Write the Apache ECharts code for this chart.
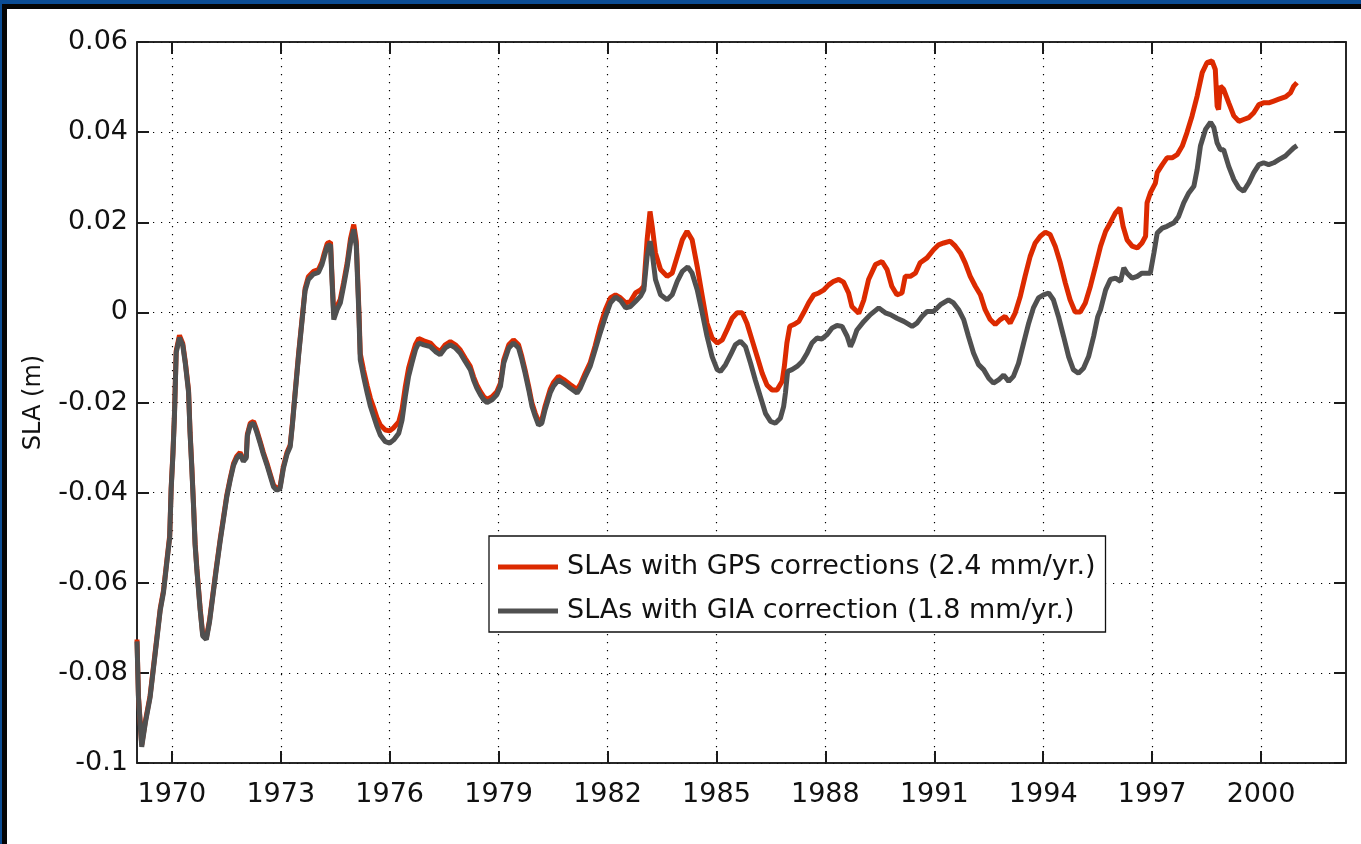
<!DOCTYPE html>
<html>
<head>
<meta charset="utf-8">
<script src="https://cdn.jsdelivr.net/npm/echarts@6/dist/echarts.min.js"></script>
<style>
  html, body { margin: 0; padding: 0; background: #fff; }
  #wrap { position: relative; width: 1361px; height: 844px; overflow: hidden; background: #fff; }
  #chart { position: absolute; left: 0; top: 0; width: 1361px; height: 844px; }
  .f { position: absolute; z-index: 10; }
</style>
</head>
<body>
<div id="wrap">
  <div id="chart"></div>
  <div class="f" style="left:0;top:0;width:1361px;height:4px;background:#0b4c94;"></div>
  <div class="f" style="left:0;top:4px;width:1361px;height:5px;background:#050505;"></div>
  <div class="f" style="left:0;top:0;width:2px;height:844px;background:#0b4c94;"></div>
  <div class="f" style="left:2px;top:4px;width:5px;height:840px;background:#050505;"></div>
</div>
<script>
// ---- data ----
const xTickYears = [1970, 1973, 1976, 1979, 1982, 1985, 1988, 1991, 1994, 1997, 2000];
const yTickValues = [-0.1, -0.08, -0.06, -0.04, -0.02, 0, 0.02, 0.04, 0.06];
const yTickLabels = ['-0.1', '-0.08', '-0.06', '-0.04', '-0.02', '0', '0.02', '0.04', '0.06'];
const seriesNames = ['SLAs with GPS corrections (2.4 mm/yr.)', 'SLAs with GIA correction (1.8 mm/yr.)'];

const gpsYears = [
1969.04,1969.08,1969.17,1969.27,1969.40,1969.54,1969.68,1969.77,1969.86,1969.94,1969.98,1970.03,1970.07,1970.12,1970.21,1970.30,1970.37,1970.46,1970.50,1970.55,1970.60,1970.64,1970.69,1970.78,1970.85,1970.95,
1971.04,1971.13,1971.22,1971.33,1971.42,1971.51,1971.61,1971.70,1971.79,1971.88,1971.97,1972.05,1972.08,1972.16,1972.25,1972.34,1972.43,1972.52,1972.62,1972.71,1972.80,1972.89,1972.98,
1973.07,1973.17,1973.26,1973.32,1973.39,1973.49,1973.58,1973.67,1973.76,1973.90,1974.04,1974.13,1974.20,1974.28,1974.37,1974.41,1974.46,1974.55,1974.64,1974.73,1974.83,1974.92,
1975.01,1975.08,1975.15,1975.19,1975.28,1975.38,1975.47,1975.56,1975.65,1975.74,1975.88,1976.00,1976.11,1976.25,1976.34,1976.43,1976.52,1976.61,1976.71,1976.80,1976.94,
1977.12,1977.26,1977.39,1977.53,1977.67,1977.81,1977.94,1978.08,1978.22,1978.31,1978.40,1978.50,1978.59,1978.68,1978.82,1978.95,
1979.05,1979.14,1979.28,1979.41,1979.55,1979.64,1979.73,1979.83,1979.92,1980.01,1980.10,1980.19,1980.28,1980.42,1980.51,1980.65,1980.79,1980.97,
1981.16,1981.25,1981.39,1981.52,1981.66,1981.80,1981.94,1982.08,1982.22,1982.36,1982.50,1982.63,1982.77,1982.91,
1983.00,1983.09,1983.17,1983.23,1983.32,1983.46,1983.64,1983.78,1983.92,1984.06,1984.19,1984.33,1984.47,1984.61,1984.74,1984.88,
1985.02,1985.16,1985.29,1985.43,1985.57,1985.71,1985.84,1985.98,1986.12,1986.26,1986.39,1986.53,1986.67,1986.81,1986.87,1986.94,
1987.02,1987.13,1987.27,1987.40,1987.54,1987.68,1987.82,1987.96,1988.09,1988.23,1988.37,1988.50,1988.64,1988.73,1988.92,
1989.06,1989.19,1989.38,1989.56,1989.70,1989.83,1989.97,1990.11,1990.20,1990.34,1990.48,1990.61,1990.80,1990.98,
1991.12,1991.26,1991.44,1991.58,1991.72,1991.85,1991.99,1992.13,1992.27,1992.40,1992.54,1992.68,1992.82,1992.95,
1993.09,1993.23,1993.37,1993.50,1993.64,1993.78,1993.92,1994.06,1994.19,1994.33,1994.47,1994.61,1994.74,1994.88,
1995.02,1995.16,1995.30,1995.44,1995.58,1995.72,1995.85,1995.99,1996.11,1996.20,1996.31,1996.45,1996.59,1996.72,1996.82,1996.86,1996.95,
1997.09,1997.14,1997.28,1997.41,1997.55,1997.69,1997.83,1997.96,1998.10,1998.24,1998.38,1998.51,1998.65,1998.74,1998.79,1998.83,1998.88,1998.97,
1999.11,1999.25,1999.39,1999.52,1999.66,1999.80,1999.94,2000.07,2000.21,2000.35,2000.49,2000.67,2000.81,2000.90,2000.99];
const gpsValues = [
-0.0726,-0.0851,-0.0960,-0.0907,-0.0851,-0.0754,-0.0657,-0.0617,-0.0552,-0.0496,-0.0391,-0.0311,-0.0230,-0.0085,-0.0051,-0.0069,-0.0109,-0.0173,-0.0262,-0.0343,-0.0432,-0.0512,-0.0569,-0.0657,-0.0714,-0.0722,
-0.0682,-0.0625,-0.0569,-0.0504,-0.0456,-0.0407,-0.0367,-0.0335,-0.0319,-0.0311,-0.0327,-0.0319,-0.0270,-0.0246,-0.0242,-0.0262,-0.0286,-0.0311,-0.0335,-0.0359,-0.0383,-0.0391,-0.0387,
-0.0343,-0.0311,-0.0294,-0.0246,-0.0182,-0.0092,-0.0019,0.0053,0.0079,0.0091,0.0095,0.0111,0.0132,0.0153,0.0156,0.0082,-0.0005,0.0014,0.0029,0.0066,0.0110,0.0163,
0.0195,0.0158,0.0010,-0.0092,-0.0128,-0.0163,-0.0191,-0.0212,-0.0234,-0.0250,-0.0261,-0.0263,-0.0256,-0.0243,-0.0215,-0.0165,-0.0124,-0.0098,-0.0071,-0.0058,-0.0063,
-0.0068,-0.0080,-0.0087,-0.0072,-0.0065,-0.0072,-0.0083,-0.0102,-0.0120,-0.0143,-0.0161,-0.0176,-0.0187,-0.0193,-0.0187,-0.0176,
-0.0157,-0.0106,-0.0072,-0.0061,-0.0072,-0.0098,-0.0128,-0.0165,-0.0202,-0.0224,-0.0242,-0.0238,-0.0208,-0.0171,-0.0156,-0.0142,-0.0149,-0.0160,
-0.0171,-0.0160,-0.0134,-0.0112,-0.0074,-0.0030,0.0006,0.0032,0.0039,0.0032,0.0021,0.0024,0.0043,0.0050,
0.0058,0.0161,0.0224,0.0191,0.0132,0.0095,0.0080,0.0087,0.0124,0.0161,0.0180,0.0161,0.0102,0.0036,-0.0024,-0.0057,
-0.0068,-0.0061,-0.0039,-0.0013,-0.0001,-0.0001,-0.0024,-0.0061,-0.0098,-0.0135,-0.0161,-0.0172,-0.0172,-0.0153,-0.0120,-0.0068,
-0.0031,-0.0027,-0.0020,-0.0001,0.0021,0.0039,0.0043,0.0050,0.0061,0.0069,0.0073,0.0067,0.0043,0.0013,-0.0002,
0.0028,0.0073,0.0106,0.0113,0.0095,0.0058,0.0039,0.0043,0.0080,0.0080,0.0087,0.0110,0.0121,0.0139,
0.0150,0.0154,0.0158,0.0147,0.0132,0.0110,0.0080,0.0058,0.0039,0.0006,-0.0016,-0.0027,-0.0016,-0.0009,
-0.0024,-0.0001,0.0036,0.0080,0.0124,0.0154,0.0169,0.0178,0.0173,0.0147,0.0110,0.0065,0.0028,0.0001,
0.0001,0.0021,0.0058,0.0102,0.0147,0.0180,0.0199,0.0221,0.0232,0.0191,0.0161,0.0147,0.0143,0.0154,0.0169,0.0243,0.0265,
0.0287,0.0310,0.0328,0.0343,0.0343,0.0350,0.0369,0.0399,0.0436,0.0480,0.0532,0.0554,0.0558,0.0539,0.0458,0.0450,0.0502,0.0495,
0.0465,0.0436,0.0424,0.0428,0.0432,0.0443,0.0461,0.0465,0.0465,0.0469,0.0473,0.0478,0.0487,0.0502,0.0510];

const giaYears = [
1969.04,1969.08,1969.17,1969.27,1969.40,1969.54,1969.68,1969.77,1969.86,1969.94,1969.98,1970.03,1970.07,1970.12,1970.21,1970.30,1970.37,1970.46,1970.50,1970.55,1970.60,1970.64,1970.69,1970.78,1970.85,1970.95,
1971.04,1971.13,1971.22,1971.33,1971.42,1971.51,1971.61,1971.70,1971.79,1971.88,1971.97,1972.05,1972.08,1972.16,1972.25,1972.34,1972.43,1972.52,1972.62,1972.71,1972.80,1972.89,1972.98,
1973.07,1973.17,1973.26,1973.32,1973.39,1973.49,1973.58,1973.67,1973.76,1973.90,1974.04,1974.13,1974.20,1974.28,1974.37,1974.41,1974.46,1974.55,1974.64,1974.73,1974.83,1974.92,
1975.01,1975.08,1975.15,1975.19,1975.28,1975.38,1975.47,1975.56,1975.65,1975.74,1975.88,1976.00,1976.11,1976.25,1976.34,1976.43,1976.52,1976.61,1976.71,1976.80,1976.94,
1977.12,1977.26,1977.39,1977.53,1977.67,1977.81,1977.94,1978.08,1978.22,1978.31,1978.40,1978.50,1978.59,1978.68,1978.82,1978.95,
1979.05,1979.14,1979.28,1979.41,1979.55,1979.64,1979.73,1979.83,1979.92,1980.01,1980.10,1980.19,1980.28,1980.42,1980.51,1980.65,1980.79,1980.97,
1981.16,1981.25,1981.39,1981.52,1981.66,1981.80,1981.94,1982.08,1982.22,1982.36,1982.50,1982.63,1982.77,1982.91,
1983.00,1983.09,1983.17,1983.23,1983.32,1983.46,1983.64,1983.78,1983.92,1984.06,1984.21,1984.33,1984.47,1984.61,1984.74,1984.88,
1985.02,1985.11,1985.25,1985.39,1985.52,1985.66,1985.80,1985.94,1986.07,1986.21,1986.35,1986.49,1986.62,1986.76,1986.85,1986.90,1986.96,
1987.08,1987.22,1987.36,1987.50,1987.63,1987.77,1987.90,1988.04,1988.18,1988.32,1988.46,1988.60,1988.69,1988.76,1988.87,
1989.06,1989.24,1989.47,1989.65,1989.79,1989.97,1990.16,1990.39,1990.52,1990.66,1990.80,1990.98,
1991.17,1991.39,1991.53,1991.67,1991.81,1991.94,1992.08,1992.22,1992.36,1992.50,1992.63,1992.77,1992.91,
1993.05,1993.18,1993.32,1993.46,1993.60,1993.73,1993.87,1994.01,1994.15,1994.28,1994.42,1994.56,1994.70,1994.83,1994.97,
1995.11,1995.25,1995.39,1995.50,1995.58,1995.72,1995.85,1995.99,1996.13,1996.22,1996.31,1996.45,1996.59,1996.72,1996.86,1996.95,
1997.05,1997.14,1997.28,1997.41,1997.60,1997.73,1997.87,1998.01,1998.15,1998.24,1998.33,1998.47,1998.61,1998.70,1998.79,1998.88,1998.97,
1999.11,1999.25,1999.39,1999.52,1999.66,1999.80,1999.94,2000.07,2000.21,2000.35,2000.49,2000.67,2000.81,2000.90,2000.99];
const giaValues = [
-0.0730,-0.0855,-0.0964,-0.0911,-0.0855,-0.0758,-0.0661,-0.0621,-0.0556,-0.0500,-0.0395,-0.0315,-0.0234,-0.0089,-0.0056,-0.0073,-0.0113,-0.0177,-0.0266,-0.0347,-0.0436,-0.0516,-0.0573,-0.0661,-0.0718,-0.0726,
-0.0686,-0.0629,-0.0573,-0.0508,-0.0460,-0.0411,-0.0371,-0.0339,-0.0323,-0.0315,-0.0331,-0.0323,-0.0274,-0.0250,-0.0246,-0.0266,-0.0290,-0.0315,-0.0339,-0.0363,-0.0387,-0.0395,-0.0391,
-0.0347,-0.0315,-0.0298,-0.0250,-0.0186,-0.0097,-0.0024,0.0048,0.0073,0.0085,0.0089,0.0105,0.0125,0.0147,0.0150,0.0073,-0.0016,0.0006,0.0021,0.0058,0.0102,0.0154,
0.0184,0.0147,-0.0001,-0.0105,-0.0142,-0.0179,-0.0209,-0.0231,-0.0253,-0.0272,-0.0287,-0.0290,-0.0283,-0.0268,-0.0239,-0.0187,-0.0142,-0.0113,-0.0083,-0.0068,-0.0072,
-0.0076,-0.0087,-0.0094,-0.0079,-0.0072,-0.0079,-0.0090,-0.0109,-0.0127,-0.0150,-0.0168,-0.0183,-0.0194,-0.0200,-0.0194,-0.0183,
-0.0164,-0.0113,-0.0079,-0.0068,-0.0079,-0.0105,-0.0135,-0.0172,-0.0209,-0.0231,-0.0250,-0.0246,-0.0216,-0.0179,-0.0164,-0.0150,-0.0157,-0.0168,
-0.0179,-0.0168,-0.0142,-0.0120,-0.0083,-0.0045,-0.0010,0.0021,0.0034,0.0026,0.0010,0.0013,0.0024,0.0036,
0.0050,0.0124,0.0158,0.0132,0.0073,0.0039,0.0028,0.0039,0.0069,0.0091,0.0101,0.0087,0.0050,-0.0002,-0.0053,-0.0098,
-0.0127,-0.0131,-0.0116,-0.0094,-0.0072,-0.0064,-0.0076,-0.0113,-0.0150,-0.0187,-0.0224,-0.0242,-0.0246,-0.0235,-0.0209,-0.0179,-0.0131,
-0.0127,-0.0120,-0.0109,-0.0090,-0.0068,-0.0057,-0.0059,-0.0050,-0.0035,-0.0029,-0.0031,-0.0053,-0.0076,-0.0064,-0.0039,
-0.0020,-0.0005,0.0010,-0.0001,-0.0005,-0.0013,-0.0020,-0.0031,-0.0024,-0.0009,0.0002,0.0002,
0.0017,0.0028,0.0021,0.0006,-0.0016,-0.0053,-0.0090,-0.0116,-0.0127,-0.0146,-0.0157,-0.0150,-0.0139,
-0.0153,-0.0142,-0.0113,-0.0068,-0.0024,0.0010,0.0032,0.0039,0.0043,0.0028,-0.0009,-0.0053,-0.0098,-0.0127,-0.0135,
-0.0124,-0.0098,-0.0053,-0.0010,0.0006,0.0050,0.0073,0.0076,0.0069,0.0099,0.0087,0.0076,0.0080,0.0087,0.0087,0.0087,
0.0132,0.0176,0.0187,0.0191,0.0199,0.0213,0.0243,0.0265,0.0280,0.0317,0.0369,0.0406,0.0422,0.0410,0.0376,0.0361,0.0361,
0.0324,0.0295,0.0276,0.0269,0.0287,0.0310,0.0328,0.0332,0.0328,0.0332,0.0339,0.0347,0.0358,0.0365,0.0370];

// ---- chart ----
const FONT = 'DejaVu Sans';
const AXIS_COLOR = '#1a1a1a';
const pairs = (xs, ys) => xs.map((x, i) => [x, ys[i]]);
const yLabel = v => {
  const i = yTickValues.findIndex(t => Math.abs(t - v) < 1e-9);
  return i >= 0 ? yTickLabels[i] : '';
};
const X_MIN = 1969.04, X_MAX = 2002.34, Y_MIN = -0.1, Y_MAX = 0.06;
const dotStyle = () => ({ show: true, lineStyle: { color: '#000', width: 1.2, type: [1.2, 6.8] } });
const ticks = vals => ({ show: true, inside: true, length: 12, customValues: vals, lineStyle: { color: AXIS_COLOR, width: 2 } });
const line = () => ({ show: true, onZero: false, lineStyle: { color: AXIS_COLOR, width: 1.5 } });

const chart = echarts.init(document.getElementById('chart'), null, { renderer: 'canvas' });
chart.setOption({
  backgroundColor: '#ffffff',
  animation: false,
  grid: {
    left: 137, top: 42, width: 1209, height: 721, outerBoundsMode: 'none',
    show: true, borderColor: AXIS_COLOR, borderWidth: 1.5, backgroundColor: 'transparent'
  },
  legend: {
    left: 489, top: 536,
    orient: 'vertical',
    backgroundColor: '#fff',
    borderColor: '#111', borderWidth: 1.3,
    padding: [16, 10, 6, 9],
    itemGap: 14,
    itemWidth: 60, itemHeight: 5,
    icon: 'rect',
    textStyle: { fontFamily: FONT, fontSize: 27, color: '#111', lineHeight: 30, padding: [0, 0, 0, 4] },
    data: seriesNames
  },
  xAxis: [{
    type: 'value', position: 'bottom', min: X_MIN, max: X_MAX,
    axisLine: line(),
    axisTick: ticks(xTickYears),
    axisLabel: { show: true, customValues: xTickYears, margin: 18, fontFamily: FONT, fontSize: 27, color: '#111', formatter: v => String(Math.round(v)) },
    splitLine: dotStyle()
  }, {
    type: 'value', position: 'top', min: X_MIN, max: X_MAX,
    axisLine: line(),
    axisTick: ticks(xTickYears),
    axisLabel: { show: false, customValues: xTickYears },
    splitLine: { show: false }
  }],
  yAxis: [{
    type: 'value', position: 'left', min: Y_MIN, max: Y_MAX,
    name: 'SLA (m)', nameLocation: 'middle', nameRotate: 90, nameGap: 91,
    nameTextStyle: { fontFamily: FONT, fontSize: 24, color: '#111' },
    axisLine: line(),
    axisTick: ticks(yTickValues),
    axisLabel: { show: true, customValues: yTickValues, margin: 9, fontFamily: FONT, fontSize: 27, color: '#111', formatter: yLabel },
    splitLine: dotStyle()
  }, {
    type: 'value', position: 'right', min: Y_MIN, max: Y_MAX,
    axisLine: line(),
    axisTick: ticks(yTickValues),
    axisLabel: { show: false, customValues: yTickValues },
    splitLine: { show: false }
  }],
  series: [{
    name: seriesNames[0], type: 'line', xAxisIndex: 0, yAxisIndex: 0,
    data: pairs(gpsYears, gpsValues),
    showSymbol: false, symbol: 'none',
    color: '#dc2a00',
    lineStyle: { color: '#dc2a00', width: 5 }
  }, {
    name: seriesNames[1], type: 'line', xAxisIndex: 0, yAxisIndex: 0,
    data: pairs(giaYears, giaValues),
    showSymbol: false, symbol: 'none',
    color: '#505050',
    lineStyle: { color: '#505050', width: 5 }
  }]
});
</script>
</body>
</html>
